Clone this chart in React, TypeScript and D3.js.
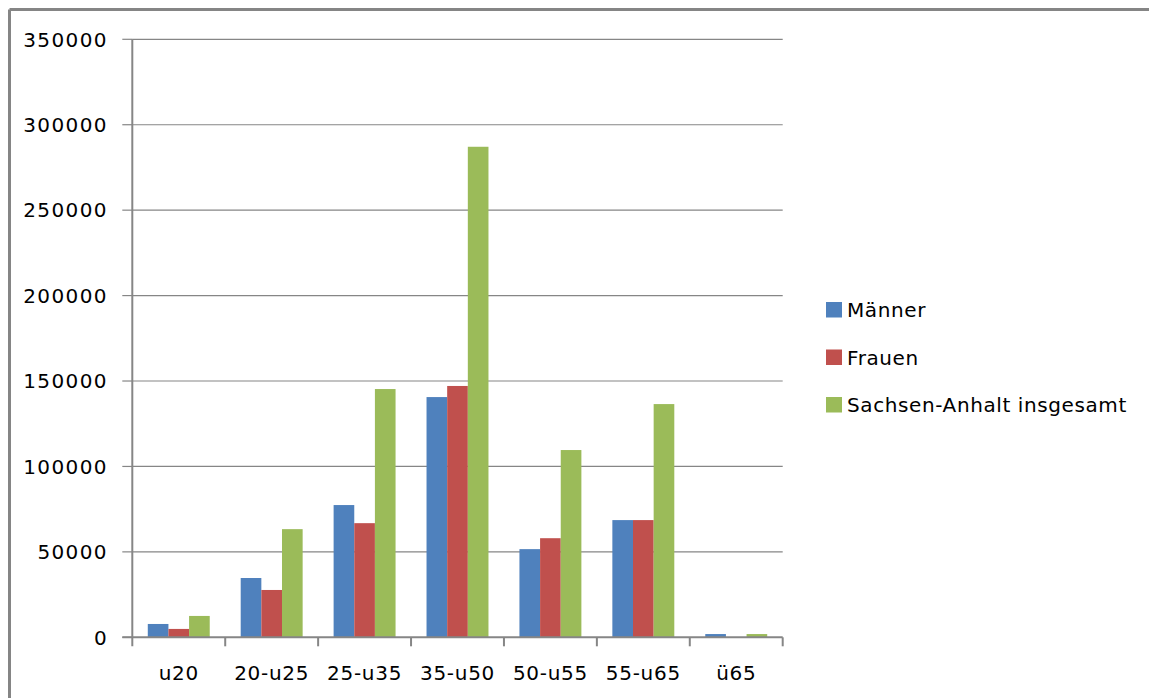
import React from "react";
import * as d3 from "d3";

const categories = ["u20", "20-u25", "25-u35", "35-u50", "50-u55", "55-u65", "ü65"];
const seriesNames = ["Männer", "Frauen", "Sachsen-Anhalt insgesamt"];
const maenner = [7800, 34700, 77400, 140600, 51600, 68600, 1900];
const frauen = [4900, 27700, 66800, 147100, 58000, 68600, 0];
const gesamt = [12500, 63300, 145300, 287100, 109600, 136500, 1900];
const yTicks = [0, 50000, 100000, 150000, 200000, 250000, 300000, 350000];
const colors = ["#4F81BD", "#C0504D", "#9BBB59"];

const W = 1149;
const H = 698;
const plotLeft = 132.3;
const plotRight = 782.7;
const plotTop = 39.3;
const plotBottom = 637.3;
const FONT = "'DejaVu Sans', sans-serif";
const GRID = "#868686";

export default function App() {
  const series = [maenner, frauen, gesamt];
  const x = d3.scaleBand<string>().domain(categories).range([plotLeft, plotRight]).paddingInner(0).paddingOuter(0);
  const y = d3.scaleLinear().domain([0, 350000]).range([plotBottom, plotTop]);
  const bw = x.bandwidth();
  const barW = bw / 4.5;
  const inner = d3.scaleBand<number>().domain([0, 1, 2]).range([barW * 0.75, barW * 3.75]).padding(0);

  return (
    <svg width={W} height={H} style={{ position: "absolute", left: 0, top: 0, background: "#fff" }}>
      <rect x={0} y={0} width={W} height={H} fill="#fff" />
      {/* outer border (top and left only visible) */}
      <line x1={9.5} y1={9.5} x2={W} y2={9.5} stroke="#858585" strokeWidth={3} />
      <line x1={9.5} y1={9.5} x2={9.5} y2={H} stroke="#858585" strokeWidth={3} />

      {/* gridlines */}
      {yTicks.filter((t) => t > 0).map((t) => (
        <line key={"g" + t} x1={plotLeft} x2={plotRight} y1={y(t)} y2={y(t)} stroke={GRID} strokeWidth={1.2} />
      ))}
      {/* y tick marks and labels */}
      {yTicks.map((t) => (
        <g key={"yt" + t}>
          <line x1={plotLeft - 10} x2={plotLeft} y1={y(t)} y2={y(t)} stroke={GRID} strokeWidth={1.2} />
          <text x={108} y={y(t)} dy="0.36em" textAnchor="end" fontFamily={FONT} fontSize={20} letterSpacing={1.4} fill="#000">
            {t}
          </text>
        </g>
      ))}

      {/* bars */}
      {series.map((vals, si) =>
        vals.map((v, ci) => (
          <rect
            key={"b" + si + "-" + ci}
            x={(x(categories[ci]) as number) + (inner(si) as number)}
            y={y(v)}
            width={inner.bandwidth()}
            height={plotBottom - y(v)}
            fill={colors[si]}
          />
        ))
      )}

      {/* axes */}
      <line x1={plotLeft} x2={plotLeft} y1={plotTop} y2={plotBottom + 9} stroke={GRID} strokeWidth={2} />
      <line x1={plotLeft - 10} x2={plotRight} y1={plotBottom} y2={plotBottom} stroke={GRID} strokeWidth={2} />
      {categories.map((c, i) => (
        <line key={"xt" + i} x1={(x(c) as number) + bw} x2={(x(c) as number) + bw} y1={plotBottom} y2={plotBottom + 9} stroke={GRID} strokeWidth={2} />
      ))}
      {categories.map((c) => (
        <text key={"xl" + c} x={(x(c) as number) + bw / 2} y={680} textAnchor="middle" fontFamily={FONT} fontSize={20} letterSpacing={0.7} fill="#000">
          {c}
        </text>
      ))}

      {/* legend */}
      {seriesNames.map((n, i) => (
        <g key={"lg" + i}>
          <rect x={826} y={302 + i * 47.5} width={16} height={15.5} fill={colors[i]} />
          <text x={847} y={317 + i * 47.5} fontFamily={FONT} fontSize={20} letterSpacing={0.6} fill="#000">
            {n}
          </text>
        </g>
      ))}
    </svg>
  );
}
